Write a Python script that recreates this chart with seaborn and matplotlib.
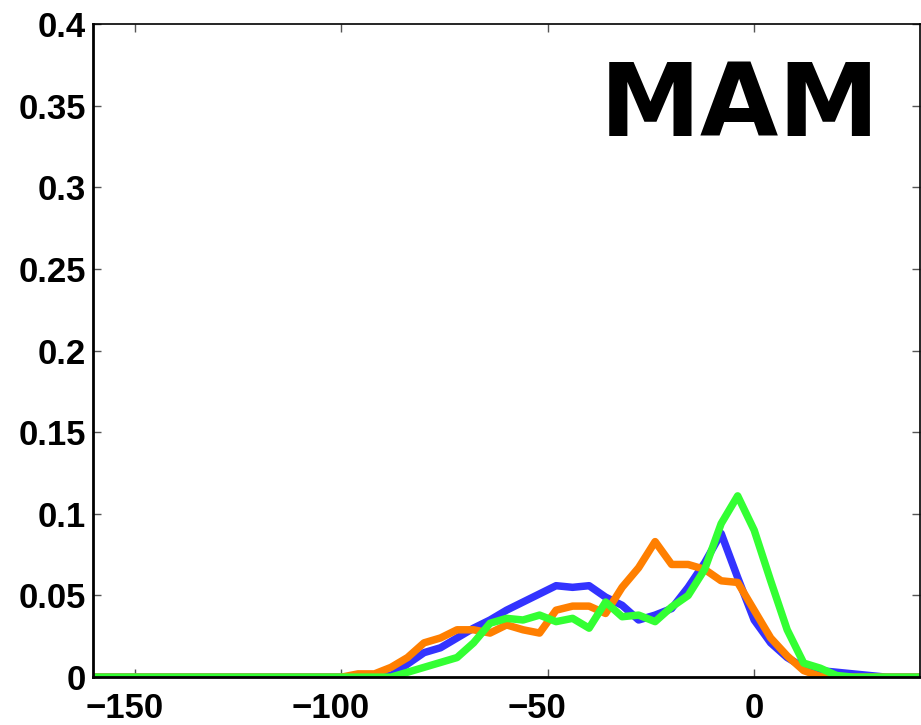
import matplotlib
matplotlib.use("Agg")
import matplotlib.pyplot as plt
import matplotlib.transforms as mtransforms
import seaborn as sns
import pandas as pd
from matplotlib.ticker import FixedLocator, FuncFormatter

# bin centres (step 4) and the three frequency distributions
bins = [-160, -156, -152, -148, -144, -140, -136, -132, -128, -124,
        -120, -116, -112, -108, -104, -100, -96, -92, -88, -84,
        -80, -76, -72, -68, -64, -60, -56, -52, -48, -44,
        -40, -36, -32, -28, -24, -20, -16, -12, -8, -4,
        0, 4, 8, 12, 16, 20, 24, 28, 32, 36, 40]

series_a = [0, 0, 0, 0, 0, 0, 0, 0, 0, 0,
            0, 0, 0, 0, 0, 0, 0, 0, 0.001, 0.008,
            0.015, 0.018, 0.024, 0.030, 0.035, 0.041, 0.046, 0.051, 0.056, 0.055,
            0.056, 0.049, 0.044, 0.035, 0.038, 0.042, 0.055, 0.070, 0.088, 0.061,
            0.035, 0.021, 0.012, 0.006, 0.004, 0.003, 0.002, 0.001, 0, 0, 0]

series_b = [0, 0, 0, 0, 0, 0, 0, 0, 0, 0,
            0, 0, 0, 0, 0, 0, 0.002, 0.002, 0.006, 0.012,
            0.021, 0.024, 0.029, 0.029, 0.027, 0.032, 0.029, 0.027, 0.041, 0.0435,
            0.0435, 0.039, 0.055, 0.067, 0.083, 0.069, 0.069, 0.066, 0.059, 0.058,
            0.041, 0.024, 0.013, 0.004, 0.0005, 0, 0, 0, 0, 0, 0]

series_c = [0, 0, 0, 0, 0, 0, 0, 0, 0, 0,
            0, 0, 0, 0, 0, 0, 0, 0, 0, 0.003,
            0.006, 0.009, 0.012, 0.021, 0.033, 0.036, 0.035, 0.038, 0.034, 0.036,
            0.030, 0.046, 0.037, 0.038, 0.034, 0.043, 0.050, 0.066, 0.094, 0.111,
            0.090, 0.059, 0.029, 0.0086, 0.0055, 0.001, 0, 0, 0, 0, 0]

series_names = ["a", "b", "c"]
series_colors = ["#3333ff", "#ff7f00", "#33ff33"]

x_ticks = [-150, -100, -50, 0]
y_ticks = [0, 0.05, 0.1, 0.15, 0.2, 0.25, 0.3, 0.35, 0.4]
season = "MAM"

frames = []
for name, vals in zip(series_names, [series_a, series_b, series_c]):
    frames.append(pd.DataFrame({"x": bins, "y": vals, "s": name}))
df = pd.concat(frames, ignore_index=True)

sns.set_style("ticks")
plt.rcParams["font.family"] = ["Liberation Sans", "DejaVu Sans"]
plt.rcParams["text.color"] = "black"

fig = plt.figure(figsize=(9.21, 7.25), dpi=100)
ax = fig.add_axes([0.101, 0.066, 0.898, 0.901])

sns.lineplot(data=df, x="x", y="y", hue="s", hue_order=series_names,
             palette=series_colors, linewidth=5.4, legend=False, ax=ax,
             sort=False, estimator=None)

ax.set_xlim(-160.2, 40.2)
ax.set_ylim(0, 0.4)
ax.xaxis.set_major_locator(FixedLocator(x_ticks))
ax.yaxis.set_major_locator(FixedLocator(y_ticks))
ax.yaxis.set_major_formatter(FuncFormatter(lambda v, p: f"{v:g}"))
ax.xaxis.set_major_formatter(FuncFormatter(lambda v, p: f"{v:g}".replace("-", "\u2212")))
ax.set_xlabel("")
ax.set_ylabel("")

ax.tick_params(axis="both", which="major", direction="in", length=6, width=1,
               color="#555555", labelsize=25, labelcolor="black",
               top=True, right=True)
ax.tick_params(axis="y", pad=5)
ax.tick_params(axis="x", pad=11)
for lab in ax.get_xticklabels() + ax.get_yticklabels():
    lab.set_fontweight("bold")

# negative x labels sit a little left of their ticks
shift = mtransforms.ScaledTranslation(-11 / 100, 0, fig.dpi_scale_trans)
for val, lab in zip(x_ticks, ax.get_xticklabels()):
    if val < 0:
        lab.set_transform(lab.get_transform() + shift)

for side in ["left", "bottom"]:
    ax.spines[side].set_linewidth(2)
    ax.spines[side].set_color("black")
for side in ["top", "right"]:
    ax.spines[side].set_visible(True)
    ax.spines[side].set_linewidth(1.2)
    ax.spines[side].set_color("black")

ax.text(0.951, 0.871, season, transform=ax.transAxes, ha="right", va="center",
        fontsize=73, fontweight="heavy", family="DejaVu Sans", color="black")

fig.savefig("out.png", dpi=100, facecolor="white")
